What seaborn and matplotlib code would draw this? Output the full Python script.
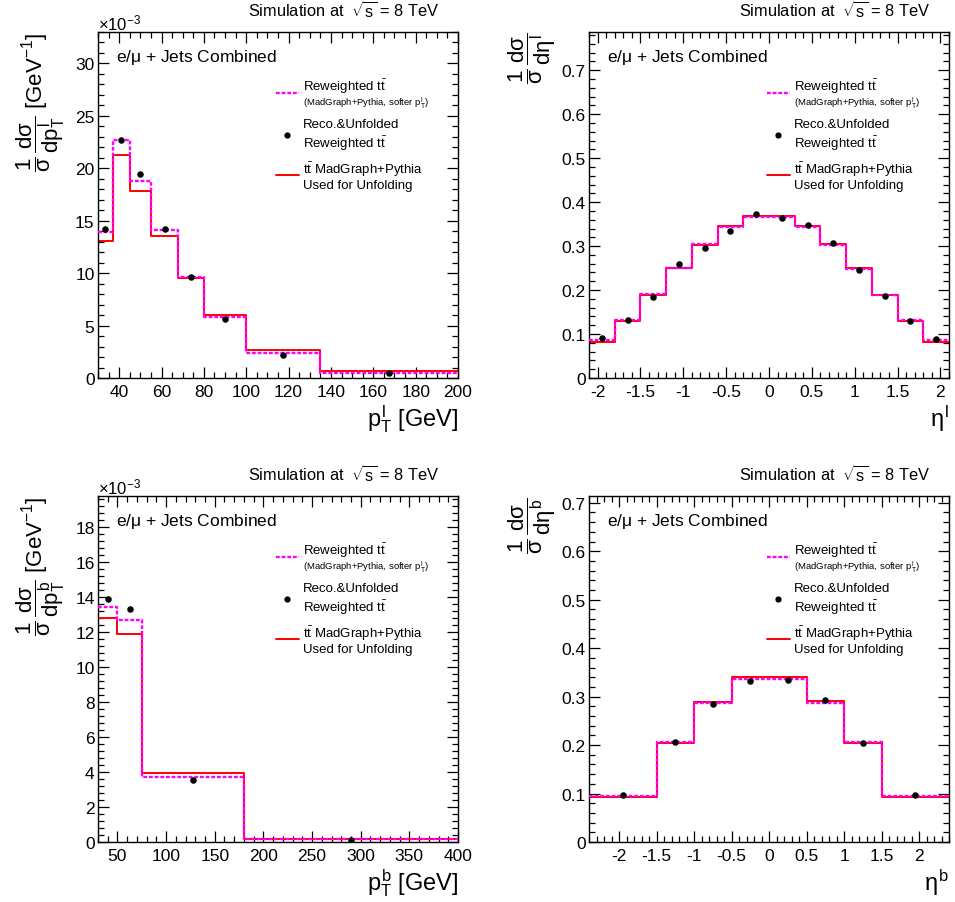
import numpy as np
import pandas as pd
import matplotlib
matplotlib.use("Agg")
import matplotlib.pyplot as plt
from matplotlib.lines import Line2D
from matplotlib.ticker import MultipleLocator, FuncFormatter
from matplotlib.offsetbox import (AnchoredOffsetbox, DrawingArea, HPacker,
                                  VPacker, TextArea)
import seaborn as sns

# ---------------------------------------------------------------
# Normalised differential cross sections (simulation, sqrt(s)=8 TeV)
# pT distributions are given in units of 1e-3 GeV^-1
# ---------------------------------------------------------------
ptl_edges = [30, 37, 45, 55, 68, 80, 100, 135, 200]
ptl_nominal = [13.08, 21.29, 17.82, 13.52, 9.55, 5.98, 2.70, 0.67]
ptl_reweighted = [13.94, 22.69, 18.77, 14.10, 9.64, 5.79, 2.42, 0.51]
ptl_unfolded = [14.25, 22.69, 19.41, 14.19, 9.61, 5.63, 2.20, 0.45]

etal_edges = [-2.1, -1.8, -1.5, -1.2, -0.9, -0.6, -0.3, 0.0, 0.3, 0.6, 0.9, 1.2, 1.5, 1.8, 2.1]
etal_nominal = [0.083, 0.130, 0.189, 0.250, 0.303, 0.345, 0.368,
                0.368, 0.345, 0.304, 0.250, 0.189, 0.130, 0.083]
etal_reweighted = [0.086, 0.131, 0.190, 0.251, 0.305, 0.343, 0.366,
                   0.366, 0.343, 0.302, 0.248, 0.188, 0.131, 0.086]
etal_unfolded = [0.091, 0.131, 0.184, 0.260, 0.296, 0.335, 0.372,
                 0.363, 0.347, 0.308, 0.245, 0.186, 0.129, 0.089]

ptb_edges = [30, 50, 75, 180, 400]
ptb_nominal = [12.79, 11.91, 3.93, 0.17]
ptb_reweighted = [13.44, 12.71, 3.70, 0.15]
ptb_unfolded = [13.91, 13.34, 3.53, 0.13]

etab_edges = [-2.4, -1.5, -1.0, -0.5, 0.0, 0.5, 1.0, 1.5, 2.4]
etab_nominal = [0.092, 0.204, 0.288, 0.341, 0.341, 0.290, 0.204, 0.092]
etab_reweighted = [0.095, 0.206, 0.286, 0.337, 0.337, 0.287, 0.206, 0.095]
etab_unfolded = [0.096, 0.206, 0.285, 0.332, 0.334, 0.292, 0.204, 0.098]

# Text
sim_label = r"Simulation at  $\sqrt{s}$ = 8 TeV"
channel_label = r"e/$\mu$ + Jets Combined"
legend_rew_lines = [r"Reweighted t$\bar{t}$",
                    r"(MadGraph+Pythia, softer p$_{T}^{l}$)"]
legend_unf_lines = ["Reco.&Unfolded", r"Reweighted t$\bar{t}$"]
legend_nom_lines = [r"t$\bar{t}$ MadGraph+Pythia", "Used for Unfolding"]

RED = "#ff0000"
MAGENTA = "#ff00ff"
DOTS = (0, (1.6, 0.8))

sns.set_theme(style="ticks")
plt.rcParams["font.family"] = ["Liberation Sans", "DejaVu Sans"]
plt.rcParams["mathtext.fontset"] = "custom"
plt.rcParams["mathtext.rm"] = "Liberation Sans"
plt.rcParams["mathtext.it"] = "Liberation Sans"
plt.rcParams["mathtext.bf"] = "Liberation Sans:bold"
plt.rcParams["axes.unicode_minus"] = False
for key in ["text.color", "axes.labelcolor", "xtick.color", "ytick.color",
            "xtick.labelcolor", "ytick.labelcolor", "axes.edgecolor"]:
    plt.rcParams[key] = "black"

fig = plt.figure(figsize=(9.55, 9.03), dpi=100)
fig.patch.set_facecolor("white")

W, H = 955.0, 903.0
aw, ah = 360.0 / W, 346.0 / H
positions = [
    (98 / W, (H - 379) / H),
    (589 / W, (H - 379) / H),
    (98 / W, (H - 843) / H),
    (589 / W, (H - 843) / H),
]

panels = [
    dict(edges=ptl_edges, nom=ptl_nominal, rew=ptl_reweighted, unf=ptl_unfolded,
         xlim=(30, 200), ylim=(0, 33.0), xmaj=20, xmin=5, ymaj=5, ymin=1,
         xlabel=r"$p_{T}^{l}$ [GeV]",
         ylabel=r"$\dfrac{1}{\sigma}\,\dfrac{d\sigma}{dp_{T}^{l}}$ [GeV$^{-1}$]",
         scale=True),
    dict(edges=etal_edges, nom=etal_nominal, rew=etal_reweighted, unf=etal_unfolded,
         xlim=(-2.1, 2.1), ylim=(0, 0.787), xmaj=0.5, xmin=0.1, ymaj=0.1, ymin=0.02,
         xlabel=r"$\eta^{l}$",
         ylabel=r"$\dfrac{1}{\sigma}\,\dfrac{d\sigma}{d\eta^{l}}$",
         scale=False),
    dict(edges=ptb_edges, nom=ptb_nominal, rew=ptb_reweighted, unf=ptb_unfolded,
         xlim=(30, 400), ylim=(0, 19.8), xmaj=50, xmin=10, ymaj=2, ymin=0.4,
         xlabel=r"$p_{T}^{b}$ [GeV]",
         ylabel=r"$\dfrac{1}{\sigma}\,\dfrac{d\sigma}{dp_{T}^{b}}$ [GeV$^{-1}$]",
         scale=True),
    dict(edges=etab_edges, nom=etab_nominal, rew=etab_reweighted, unf=etab_unfolded,
         xlim=(-2.4, 2.4), ylim=(0, 0.714), xmaj=0.5, xmin=0.1, ymaj=0.1, ymin=0.02,
         xlabel=r"$\eta^{b}$",
         ylabel=r"$\dfrac{1}{\sigma}\,\dfrac{d\sigma}{d\eta^{b}}$",
         scale=False),
]

fmt = FuncFormatter(lambda v, p: f"{v:g}")


def legend_sample(artist, w=16.5, h=8.0):
    da = DrawingArea(w, h, 0, 0)
    da.add_artist(artist)
    return da


def legend_text(lines, sizes, sep):
    return VPacker(children=[TextArea(t, textprops=dict(fontsize=s, color="black"))
                             for t, s in zip(lines, sizes)],
                   align="left", pad=0, sep=sep)


def add_legend(ax):
    w, h = 16.5, 8.0
    samples = [
        legend_sample(Line2D([0, w], [h / 2, h / 2], color=MAGENTA, lw=1.7, ls=DOTS)),
        legend_sample(Line2D([w / 2], [h / 2], color="black", marker="o", ls="none",
                             markersize=4.5, markeredgewidth=0)),
        legend_sample(Line2D([0, w], [h / 2, h / 2], color=RED, lw=1.4)),
    ]
    texts = [
        legend_text(legend_rew_lines, [9.5, 6.8], 0.0),
        legend_text(legend_unf_lines, [9.5, 9.5], 2.5),
        legend_text(legend_nom_lines, [9.5, 9.5], 0.8),
    ]
    rows = [HPacker(children=[s, t], align="center", pad=0, sep=3)
            for s, t in zip(samples, texts)]
    box = VPacker(children=rows, align="left", pad=0, sep=5.5)
    anchored = AnchoredOffsetbox(loc="upper left", child=box, pad=0,
                                 borderpad=0, frameon=False,
                                 bbox_to_anchor=(0.494, 0.871),
                                 bbox_transform=ax.transAxes)
    ax.add_artist(anchored)


for (x0, y0), p in zip(positions, panels):
    ax = fig.add_axes([x0, y0, aw, ah])
    ax.set_facecolor("white")
    edges = [float(e) for e in p["edges"]]
    centers = [0.5 * (a + b) for a, b in zip(edges[:-1], edges[1:])]
    df = pd.DataFrame({"center": centers, "nominal": p["nom"],
                       "reweighted": p["rew"], "unfolded": p["unf"]})

    # nominal MC (solid red) and reweighted MC (dotted magenta) as step histograms
    sns.histplot(data=df, x="center", weights="nominal", bins=edges,
                 element="step", fill=False, color=RED, linewidth=1.4,
                 ax=ax, zorder=2)
    sns.histplot(data=df, x="center", weights="reweighted", bins=edges,
                 element="step", fill=False, color=MAGENTA, linewidth=1.7,
                 linestyle=DOTS, ax=ax, zorder=3)
    # unfolded result at bin centres
    sns.scatterplot(data=df, x="center", y="unfolded", color="black", s=22,
                    linewidth=0, ax=ax, zorder=5)

    ax.set_xlim(*p["xlim"])
    ax.set_ylim(*p["ylim"])
    ax.xaxis.set_major_locator(MultipleLocator(p["xmaj"]))
    ax.xaxis.set_minor_locator(MultipleLocator(p["xmin"]))
    ax.yaxis.set_major_locator(MultipleLocator(p["ymaj"]))
    ax.yaxis.set_minor_locator(MultipleLocator(p["ymin"]))
    ax.xaxis.set_major_formatter(fmt)
    ax.yaxis.set_major_formatter(fmt)

    ax.tick_params(which="both", direction="in", top=True, right=True,
                   color="black", width=0.9, labelsize=12.5, labelcolor="black")
    ax.tick_params(which="major", length=8)
    ax.tick_params(which="minor", length=4)
    ax.tick_params(axis="x", which="major", pad=4)
    ax.tick_params(axis="y", which="major", pad=2.5)
    for s in ax.spines.values():
        s.set_color("black")
        s.set_linewidth(1.0)
        s.set_visible(True)

    ax.set_xlabel(p["xlabel"], fontsize=17, loc="right", color="black")
    ax.xaxis.set_label_coords(1.0, -0.115)
    ax.xaxis.label.set_va("center")
    ax.set_ylabel(p["ylabel"], fontsize=16, loc="top", color="black")
    ax.yaxis.set_label_coords(-0.086, 1.0)

    ax.text(0.947, 1.064, sim_label, transform=ax.transAxes, ha="right",
            va="center", fontsize=11.8)
    ax.text(0.049, 0.93, channel_label, transform=ax.transAxes, ha="left",
            va="center", fontsize=12.5)
    if p["scale"]:
        ax.text(0.0, 0.998, r"$\times$10$^{-3}$", transform=ax.transAxes,
                ha="left", va="bottom", fontsize=12)

    add_legend(ax)

fig.savefig("out.png", dpi=100, facecolor="white")
